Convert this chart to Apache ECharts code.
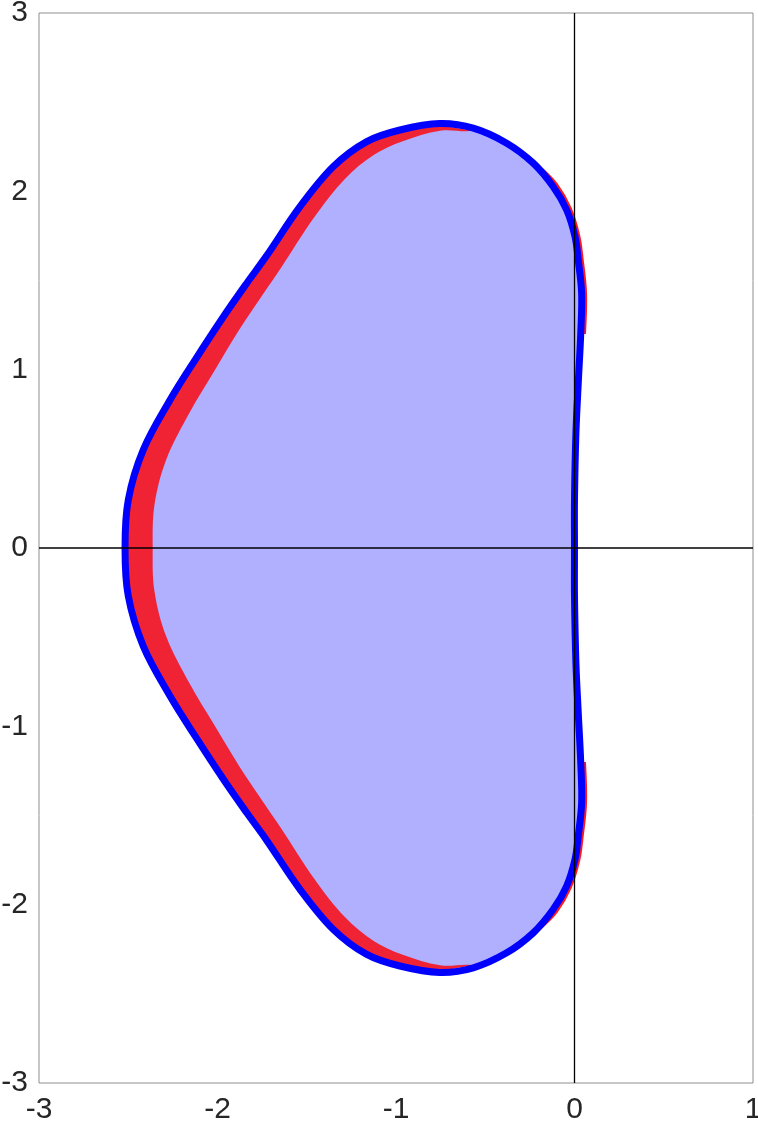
<!DOCTYPE html>
<html>
<head>
<meta charset="utf-8">
<script src="https://cdn.jsdelivr.net/npm/echarts@6/dist/echarts.min.js"></script>
<style>
  html, body { margin: 0; padding: 0; background: #fff; }
  #main { width: 758px; height: 1127px; }
</style>
</head>
<body>
<div id="main"></div>
<script>
// boundary of the region (blue curve), closed loop
const boundaryUpper = [
  [0.000, 0.000], [0.000, 0.270], [0.008, 0.645], [0.021, 0.924], [0.035, 1.204],
  [0.040, 1.428], [0.021, 1.615], [0.003, 1.746], [-0.044, 1.896], [-0.119, 2.026],
  [-0.231, 2.158], [-0.380, 2.270], [-0.567, 2.354], [-0.754, 2.380], [-0.978, 2.344],
  [-1.164, 2.279], [-1.351, 2.139], [-1.538, 1.914], [-1.728, 1.634], [-1.836, 1.485],
  [-1.967, 1.297], [-2.126, 1.054], [-2.266, 0.830], [-2.416, 0.550], [-2.500, 0.269],
  [-2.518, 0.000]
]
const boundaryLower = [
  [-2.500, -0.269], [-2.416, -0.550], [-2.266, -0.830], [-2.126, -1.054], [-1.967, -1.297],
  [-1.836, -1.485], [-1.728, -1.634], [-1.538, -1.914], [-1.351, -2.139], [-1.164, -2.279],
  [-0.978, -2.344], [-0.754, -2.380], [-0.567, -2.354], [-0.380, -2.270], [-0.231, -2.158],
  [-0.119, -2.026], [-0.044, -1.896], [0.003, -1.746], [0.021, -1.615], [0.040, -1.428],
  [0.035, -1.204], [0.021, -0.924], [0.008, -0.645], [0.000, -0.270]
]

// red dotted band on the left side: outer and inner edges (top to bottom)
const redOuter = [
  [-0.560, 2.342], [-0.601, 2.345], [-0.754, 2.365], [-0.974, 2.329], [-1.157, 2.266],
  [-1.341, 2.128], [-1.526, 1.905], [-1.716, 1.625], [-1.824, 1.476], [-1.955, 1.289],
  [-2.113, 1.046], [-2.253, 0.823], [-2.402, 0.544], [-2.485, 0.266], [-2.503, 0.000],
  [-2.485, -0.266], [-2.402, -0.544], [-2.253, -0.823], [-2.113, -1.046], [-1.955, -1.289],
  [-1.824, -1.476], [-1.716, -1.625], [-1.526, -1.905], [-1.341, -2.128], [-1.157, -2.266],
  [-0.974, -2.329], [-0.754, -2.365], [-0.601, -2.345], [-0.560, -2.342]
]
const redInner = [
  [-0.560, 2.342], [-0.602, 2.337], [-0.753, 2.340], [-0.962, 2.281], [-1.123, 2.205],
  [-1.285, 2.071], [-1.458, 1.854], [-1.642, 1.574], [-1.746, 1.421], [-1.872, 1.233],
  [-2.021, 0.987], [-2.153, 0.765], [-2.287, 0.496], [-2.353, 0.242], [-2.363, 0.000],
  [-2.353, -0.242], [-2.287, -0.496], [-2.153, -0.765], [-2.021, -0.987], [-1.872, -1.233],
  [-1.746, -1.421], [-1.642, -1.574], [-1.458, -1.854], [-1.285, -2.071], [-1.123, -2.205],
  [-0.962, -2.281], [-0.753, -2.340], [-0.602, -2.337], [-0.560, -2.342]
]

// red dots just outside the curve near the imaginary axis
const redRightUpper = [
  [-0.190, 2.130], [-0.101, 2.039], [-0.024, 1.905], [0.024, 1.751], [0.043, 1.618],
  [0.062, 1.428], [0.056, 1.200]
]
const redRightLower = [
  [0.056, -1.200], [0.062, -1.428], [0.043, -1.618], [0.024, -1.751], [-0.024, -1.905],
  [-0.101, -2.039], [-0.190, -2.130]
]

const xTicks = [-3, -2, -1, 0, 1]
const yTicks = [-3, -2, -1, 0, 1, 2, 3]

const boundary = boundaryUpper.concat(boundaryLower)
const redBand = redOuter.concat(redInner.slice().reverse())

const chart = echarts.init(document.getElementById('main'))

function shapeSeries (name, points, style, closed) {
  return {
    name: name,
    type: 'custom',
    silent: true,
    clip: true,
    data: [[0, 0]],
    renderItem: function (params, api) {
      const pts = points.map(p => api.coord(p))
      return {
        type: closed ? 'polygon' : 'polyline',
        shape: { points: pts, smooth: 0.35 },
        style: style
      }
    }
  }
}

const labelStyle = {
  color: '#262626',
  fontSize: 30,
  fontFamily: 'Liberation Sans'
}

chart.setOption({
  animation: false,
  grid: {
    left: 39,
    right: 5,
    top: 13,
    bottom: 44,
    outerBoundsMode: 'none',
    show: true,
    borderColor: '#8f8f8f',
    borderWidth: 1,
    backgroundColor: 'transparent'
  },
  xAxis: {
    type: 'value',
    min: xTicks[0],
    max: xTicks[xTicks.length - 1],
    interval: 1,
    axisLine: { show: false },
    axisTick: { show: false },
    splitLine: { show: false },
    axisLabel: Object.assign({ margin: 12 }, labelStyle)
  },
  yAxis: {
    type: 'value',
    min: yTicks[0],
    max: yTicks[yTicks.length - 1],
    interval: 1,
    axisLine: { show: false },
    axisTick: { show: false },
    splitLine: { show: false },
    axisLabel: Object.assign({ margin: 11 }, labelStyle)
  },
  series: [
    shapeSeries('fill', boundary, { fill: '#b0b0ff', stroke: 'none' }, true),
    shapeSeries('redBand', redBand, { fill: 'rgba(255,0,0,0.8)', stroke: 'none' }, true),
    shapeSeries('redRightUp', redRightUpper, { fill: 'none', stroke: '#ff1a1a', lineWidth: 3 }, false),
    shapeSeries('redRightDown', redRightLower, { fill: 'none', stroke: '#ff1a1a', lineWidth: 3 }, false),
    shapeSeries('curve', boundary, { fill: 'none', stroke: '#0000ff', lineWidth: 7 }, true),
    {
      type: 'line',
      silent: true,
      symbol: 'none',
      data: [[xTicks[0], 0], [xTicks[xTicks.length - 1], 0]],
      lineStyle: { color: '#000', width: 1.3 }
    },
    {
      type: 'line',
      silent: true,
      symbol: 'none',
      data: [[0, yTicks[0]], [0, yTicks[yTicks.length - 1]]],
      lineStyle: { color: '#000', width: 1.3 }
    }
  ]
})
</script>
</body>
</html>
